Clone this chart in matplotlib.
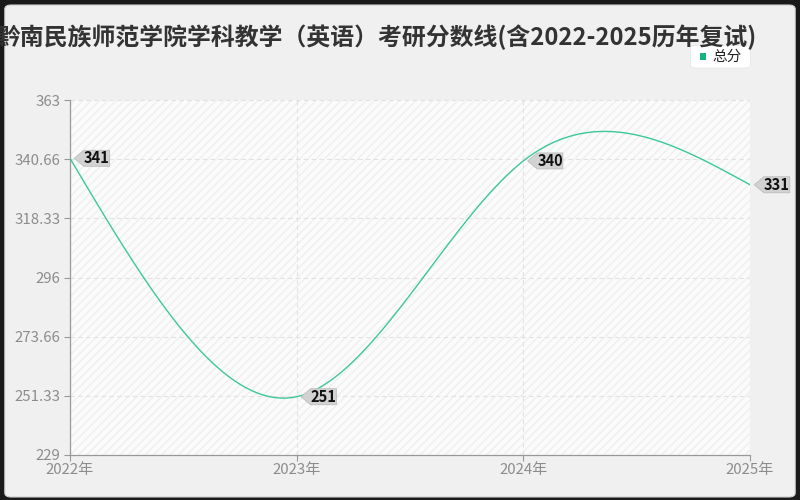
import numpy as np
import matplotlib
matplotlib.use("Agg")
import matplotlib.pyplot as plt
from matplotlib.patches import FancyBboxPatch, Rectangle
from matplotlib.path import Path

plt.rcParams['font.family'] = ['Noto Sans CJK SC', 'DejaVu Sans']

title = "黔南民族师范学院学科教学（英语）考研分数线(含2022-2025历年复试)"
years = [2022, 2023, 2024, 2025]
year_labels = ["2022年", "2023年", "2024年", "2025年"]
scores = [341, 251, 340, 331]
y_ticks = [229, 251.33, 273.66, 296, 318.33, 340.66, 363]
y_tick_labels = ["229", "251.33", "273.66", "296", "318.33", "340.66", "363"]
series_name = "总分"

line_color = "#3cc79c"
marker_color = "#13b383"


def natural_spline(x, y, n=40):
    x = np.asarray(x, float)
    y = np.asarray(y, float)
    k = len(x)
    h = np.diff(x)
    A = np.zeros((k, k))
    b = np.zeros(k)
    A[0, 0] = 1
    A[-1, -1] = 1
    for i in range(1, k - 1):
        A[i, i - 1] = h[i - 1]
        A[i, i] = 2 * (h[i - 1] + h[i])
        A[i, i + 1] = h[i]
        b[i] = 6 * ((y[i + 1] - y[i]) / h[i] - (y[i] - y[i - 1]) / h[i - 1])
    M = np.linalg.solve(A, b)
    xs, ys = [], []
    for i in range(k - 1):
        t = np.linspace(0, 1, n, endpoint=(i == k - 2))
        xx = x[i] + t * h[i]
        a = 1 - t
        yy = (a * y[i] + t * y[i + 1]
              + ((a ** 3 - a) * M[i] + (t ** 3 - t) * M[i + 1]) * h[i] ** 2 / 6)
        xs.append(xx)
        ys.append(yy)
    return np.concatenate(xs), np.concatenate(ys)


fig = plt.figure(figsize=(8, 5), dpi=100)
fig.patch.set_facecolor("#1a1a1a")
bg = FancyBboxPatch((0.006, 0.006), 0.988, 0.984,
                    boxstyle="round,pad=0,rounding_size=0.008",
                    transform=fig.transFigure, facecolor="#f0f0f0",
                    edgecolor="#cfcfcf", linewidth=0.8, zorder=-5)
fig.patches.append(bg)

ax = fig.add_axes([0.0875, 0.09, 0.85, 0.71])
ax.set_zorder(1)
ax.set_facecolor("#fbfbfb")
hatch = Rectangle((0, 0), 1, 1, transform=ax.transAxes, facecolor="none",
                  edgecolor="#efefef", hatch="////", linewidth=0, zorder=0)
ax.add_patch(hatch)

xs, ys = natural_spline(years, scores)
ax.plot(xs, ys, color=line_color, linewidth=1.0, zorder=3)

ax.set_xlim(years[0], years[-1])
ax.set_ylim(y_ticks[0], y_ticks[-1])
ax.set_xticks(years)
ax.set_xticklabels(year_labels)
ax.set_yticks(y_ticks)
ax.set_yticklabels(y_tick_labels)
ax.tick_params(axis="both", colors="#999999", labelsize=10.8, length=4, width=0.8)
ax.tick_params(axis="x", pad=2)
ax.tick_params(axis="y", pad=3)
for lab in ax.get_xticklabels() + ax.get_yticklabels():
    lab.set_color("#8c8c8c")
ax.grid(True, color="#e2e2e2", linestyle=(0, (4, 3)), linewidth=0.8)
ax.set_axisbelow(True)
for s in ["top", "right"]:
    ax.spines[s].set_visible(False)
for s in ["left", "bottom"]:
    ax.spines[s].set_color("#999999")
    ax.spines[s].set_linewidth(0.9)


def tag_box(x0, y0, width, height, mutation_size):
    tip = height * 0.6
    verts = [(x0, y0), (x0 + width, y0), (x0 + width, y0 + height),
             (x0, y0 + height), (x0 - tip, y0 + height / 2), (x0, y0)]
    codes = [Path.MOVETO] + [Path.LINETO] * 4 + [Path.CLOSEPOLY]
    return Path(verts, codes)


for xv, yv in zip(years, scores):
    ax.annotate(str(yv), xy=(xv, yv), xytext=(10, 0), textcoords="offset points",
                ha="left", va="center", fontsize=10.5, fontweight="bold",
                color="#111111", zorder=5, annotation_clip=False,
                bbox=dict(boxstyle=tag_box, facecolor="#d2d2d2",
                          edgecolor="#bdbdbd", linewidth=0.6, pad=0.18))

fig.text(0.471, 0.926, title, ha="center", va="center", fontsize=17.2,
         fontweight="bold", color="#333333")

leg_bg = FancyBboxPatch((0.863, 0.864), 0.075, 0.045,
                        boxstyle="round,pad=0,rounding_size=0.006",
                        transform=fig.transFigure, facecolor="white",
                        edgecolor="#e6e6e6", linewidth=0.6, zorder=1)
fig.patches.append(leg_bg)
fig.patches.append(Rectangle((0.875, 0.881), 0.0075, 0.012,
                             transform=fig.transFigure, facecolor=marker_color,
                             edgecolor="none", zorder=2))
fig.text(0.890, 0.887, series_name, ha="left", va="center", fontsize=10.5,
         color="#222222", zorder=3)

fig.savefig("out.png", dpi=100, facecolor=fig.get_facecolor())
